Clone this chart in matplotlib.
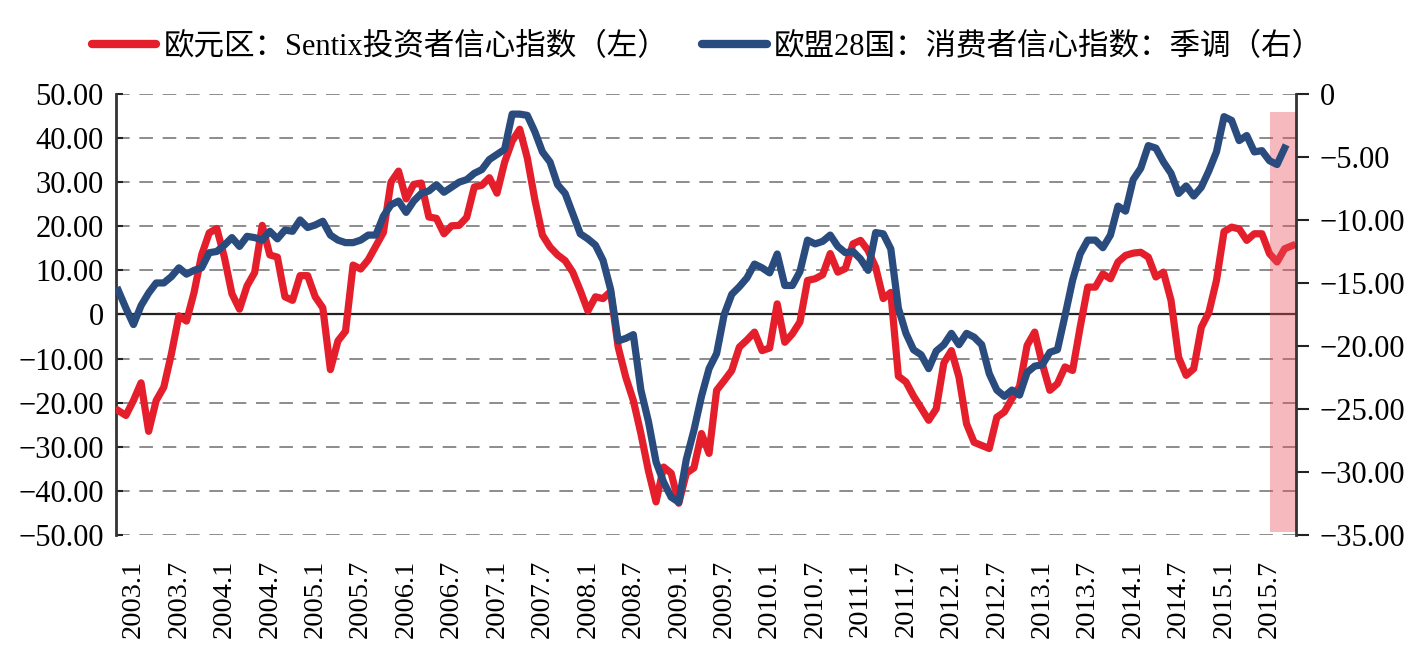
import matplotlib
matplotlib.use("Agg")
import matplotlib.pyplot as plt
from matplotlib.lines import Line2D

plt.rcParams["font.family"] = ["Liberation Serif", "Noto Sans CJK SC"]
plt.rcParams["axes.unicode_minus"] = True

# 欧元区 Sentix 投资者信心指数 (左轴), 2003.1 - 2015.12
sentix = [
    -21.8, -22.9, -19.5, -15.5, -26.5, -19.5, -16.5, -9.0, -0.3, -1.5,
    5.0, 13.5, 18.5, 19.5, 13.0, 4.7, 1.2, 6.5, 9.5, 20.2,
    13.5, 13.0, 4.0, 3.2, 8.8, 8.8, 4.0, 1.5, -12.5, -6.0,
    -3.8, 11.2, 10.3, 12.4, 15.5, 18.6, 30.0, 32.5, 26.2, 29.5,
    29.8, 22.1, 21.8, 18.3, 20.1, 20.2, 22.0, 28.9, 29.3, 31.0,
    27.5, 34.5, 39.3, 42.0, 35.5, 26.0, 18.0, 15.3, 13.5, 12.2,
    9.6, 5.4, 0.8, 4.0, 3.6, 5.2, -7.4, -14.2, -19.5, -27.0,
    -35.5, -42.5, -34.6, -36.0, -42.8, -36.0, -34.8, -27.0, -31.5, -17.2,
    -15.0, -12.7, -7.4, -5.8, -4.0, -8.2, -7.6, 2.4, -6.3, -4.4,
    -1.7, 7.7, 8.1, 9.0, 13.8, 9.6, 10.4, 16.0, 16.8, 14.5,
    10.7, 3.6, 5.0, -14.0, -15.3, -18.5, -21.2, -24.0, -21.4, -11.0,
    -8.2, -14.2, -24.8, -29.0, -29.7, -30.4, -23.3, -22.1, -19.1, -16.3,
    -7.0, -4.0, -11.2, -17.2, -15.7, -11.9, -12.7, -2.9, 6.2, 6.2,
    9.2, 8.1, 11.9, 13.4, 13.9, 14.1, 13.0, 8.5, 9.6, 3.2,
    -9.7, -13.8, -12.3, -2.9, 0.5, 7.7, 18.8, 19.8, 19.4, 16.8,
    18.3, 18.3, 13.8, 11.9, 14.9, 15.6,
]

# 欧盟28国 消费者信心指数 季调 (右轴), 2003.1 - 2015.11
consumer = [
    -15.6, -17.0, -18.3, -16.8, -15.8, -15.0, -15.0, -14.5, -13.8, -14.3,
    -14.0, -13.8, -12.6, -12.5, -12.0, -11.4, -12.1, -11.3, -11.4, -11.6,
    -10.9, -11.5, -10.8, -10.9, -10.0, -10.6, -10.4, -10.1, -11.2, -11.6,
    -11.8, -11.8, -11.6, -11.2, -11.2, -9.7, -8.8, -8.5, -9.4, -8.5,
    -7.9, -7.7, -7.2, -7.8, -7.4, -7.0, -6.8, -6.3, -6.0, -5.2,
    -4.8, -4.4, -1.6, -1.6, -1.7, -3.0, -4.6, -5.4, -7.2, -7.9,
    -9.5, -11.1, -11.5, -12.0, -13.2, -15.5, -19.6, -19.4, -19.1, -23.5,
    -26.0, -29.2, -30.8, -32.0, -32.4, -29.0, -26.7, -24.0, -21.8, -20.6,
    -17.5, -15.9, -15.3, -14.6, -13.5, -13.8, -14.2, -12.7, -15.2, -15.2,
    -14.1, -11.6, -11.9, -11.7, -11.2, -12.1, -12.6, -12.5, -13.1, -14.0,
    -11.0, -11.1, -12.3, -17.0, -19.0, -20.3, -20.7, -21.8, -20.4, -19.9,
    -19.0, -19.9, -19.0, -19.3, -19.9, -22.2, -23.5, -24.0, -23.5, -23.9,
    -22.1, -21.6, -21.5, -20.5, -20.3, -17.6, -14.8, -12.7, -11.6, -11.6,
    -12.2, -11.2, -8.9, -9.3, -6.8, -5.9, -4.1, -4.3, -5.4, -6.3,
    -7.9, -7.3, -8.1, -7.4, -6.1, -4.6, -1.8, -2.1, -3.7, -3.3,
    -4.6, -4.5, -5.3, -5.6, -4.3,
]

tick_labels = [f"{y}.{m}" for y in range(2003, 2016) for m in (1, 7)]

red = "#E41F2B"
blue = "#2A4B7E"

fig = plt.figure(figsize=(14.24, 6.52), dpi=100)
ax = fig.add_axes([0.0815, 0.1795, 0.8286, 0.6764])
ax2 = ax.twinx()

x_red = list(range(len(sentix)))
x_blue = list(range(len(consumer)))

ax.plot(x_red, sentix, color=red, lw=5.2, solid_joinstyle="round", zorder=3)
ax2.plot(x_blue, consumer, color=blue, lw=5.2, solid_joinstyle="round", zorder=3)

ax.set_xlim(-0.3, 155.5)
ax.set_ylim(-50, 50)
ax2.set_ylim(-35, 0)

# gridlines: dashed, with solid zero line
for v in range(-50, 51, 10):
    if v == 0:
        ax.axhline(0, color="#222222", lw=1.6, zorder=1)
    else:
        ax.axhline(v, color="#8c8c8c", lw=1.4, ls=(0, (7, 5)), zorder=1)

# shaded recent period (drawn over the lines)
ax.fill_between([152.1, 155.5], -49.3, 45.8, color="#E8505E", alpha=0.4,
                lw=0, zorder=5)

def fmt(v):
    return "0" if v == 0 else f"{v:.2f}".replace("-", "\u2212")

left_ticks = list(range(-50, 51, 10))
ax.set_yticks(left_ticks)
ax.set_yticklabels([fmt(v) for v in left_ticks], fontsize=22)
right_ticks = list(range(-35, 1, 5))
ax2.set_yticks(right_ticks)
ax2.set_yticklabels([fmt(v) for v in right_ticks], fontsize=22)

# the category labels sit about two months right of the data points
label_offset = 2
ax.set_xticks([i + label_offset for i in range(0, 151, 6)])
ax.set_xticklabels(tick_labels, rotation=90, fontsize=20.5, va="top", ha="center")

ax.tick_params(axis="x", length=0, pad=18)
ax.tick_params(axis="y", direction="in", length=5, width=1.5, pad=9, colors="#222222")
ax2.tick_params(axis="y", direction="out", length=9, width=1.5, pad=8, colors="#222222")
for lab in ax.get_yticklabels() + ax2.get_yticklabels() + ax.get_xticklabels():
    lab.set_color("black")

for a in (ax, ax2):
    a.spines["top"].set_visible(False)
    a.spines["bottom"].set_visible(False)
ax2.spines["left"].set_visible(False)
ax.spines["right"].set_visible(False)
ax.spines["left"].set_linewidth(2)
ax.spines["left"].set_color("#333333")
ax2.spines["right"].set_linewidth(2)
ax2.spines["right"].set_color("#333333")

handles = [
    Line2D([], [], color=red, lw=6, solid_capstyle="round"),
    Line2D([], [], color=blue, lw=6, solid_capstyle="round"),
]
labels = ["欧元区：Sentix投资者信心指数（左）", "欧盟28国：消费者信心指数：季调（右）"]
fig.legend(handles, labels, loc="center", bbox_to_anchor=(0.497, 0.927), ncol=2,
           frameon=False, fontsize=22, handlelength=2.1, handletextpad=0.25,
           columnspacing=1.1, borderaxespad=0)

fig.savefig("out.png", dpi=100)
